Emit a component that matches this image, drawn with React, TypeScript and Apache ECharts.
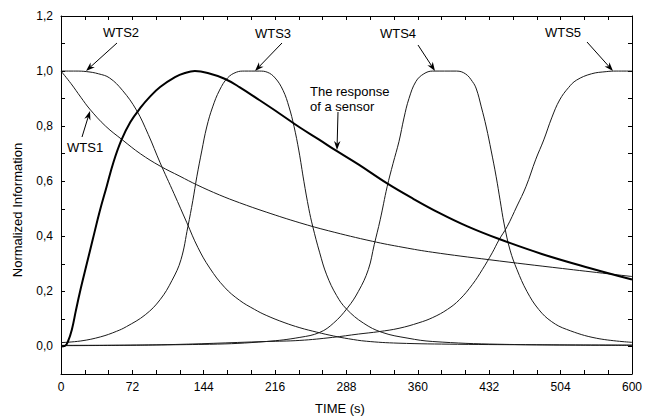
import React, { useEffect, useRef } from "react";
import * as echarts from "echarts";

// ---- axis ticks / labels ----
const X_LABEL_VALUES = [0, 72, 144, 216, 288, 360, 432, 504, 576];
const X_LABEL_TEXTS = ["0", "72", "144", "216", "288", "360", "432", "504", "600"];
const Y_LABEL_VALUES = [0, 0.2, 0.4, 0.6, 0.8, 1.0, 1.2];

// ---- series values: [time, normalized information] ----
const wts1 = [[0,1.0],[10,0.955],[20,0.905],[29,0.862],[45,0.80],[62,0.75],[80,0.70],[100,0.655],[120,0.618],[137,0.587],[160,0.55],[180,0.522],[207,0.488],[241,0.449],[270,0.42],[314,0.382],[345,0.36],[375,0.342],[432,0.315],[506,0.283],[576,0.254]];

const wts2 = [[0,1.0],[15,1.0],[26,0.998],[38,0.99],[49,0.975],[62,0.93],[76,0.859],[88,0.77],[100,0.667],[114,0.555],[127,0.449],[138,0.36],[150,0.285],[165,0.215],[180,0.168],[195,0.135],[207,0.113],[225,0.087],[241,0.068],[258,0.052],[275,0.038],[290,0.028],[308,0.019],[340,0.012],[400,0.008],[480,0.006],[576,0.005]];

const wts3 = [[0,0.014],[20,0.02],[40,0.035],[56,0.055],[66,0.072],[85,0.115],[100,0.17],[112,0.24],[121,0.315],[128,0.435],[133,0.53],[137,0.616],[142,0.71],[147,0.797],[153,0.87],[160,0.931],[168,0.975],[177,0.996],[185,1.0],[200,1.0],[208,0.996],[216,0.975],[224,0.93],[230,0.87],[235,0.80],[240,0.71],[245,0.6],[250,0.5],[254,0.435],[261,0.34],[268,0.26],[278,0.185],[288,0.136],[305,0.085],[324,0.051],[350,0.03],[375,0.018],[442,0.008],[576,0.004]];

const wts4 = [[0,0.004],[150,0.008],[207,0.018],[241,0.033],[261,0.051],[275,0.085],[289,0.14],[300,0.2],[310,0.279],[316,0.37],[322,0.46],[329,0.58],[335,0.665],[341,0.745],[346,0.83],[351,0.9],[358,0.962],[366,0.99],[375,1.0],[399,1.0],[408,0.99],[415,0.962],[419,0.935],[424,0.87],[429,0.797],[434,0.71],[439,0.616],[443,0.53],[447,0.445],[453,0.35],[460,0.279],[470,0.2],[482,0.134],[495,0.09],[510,0.062],[540,0.03],[576,0.015]];

const wts5 = [[0,0.003],[100,0.006],[207,0.018],[241,0.022],[274,0.033],[300,0.045],[321,0.054],[341,0.066],[361,0.086],[375,0.105],[390,0.135],[402,0.17],[415,0.225],[425,0.279],[435,0.34],[442,0.388],[450,0.435],[460,0.51],[469,0.58],[479,0.68],[487,0.75],[495,0.83],[503,0.895],[512,0.94],[520,0.967],[535,0.99],[550,0.998],[560,1.0],[576,1.0]];

const sensor = [[0,0],[4,0.002],[7,0.018],[11,0.062],[15,0.13],[19,0.196],[26,0.30],[32,0.388],[39,0.49],[46,0.58],[53,0.67],[61,0.75],[70,0.815],[80,0.866],[90,0.908],[100,0.942],[115,0.978],[125,0.993],[135,1.0],[148,0.993],[165,0.972],[180,0.942],[200,0.895],[220,0.847],[241,0.795],[260,0.752],[278,0.71],[300,0.661],[329,0.592],[355,0.537],[381,0.486],[410,0.436],[442,0.39],[485,0.336],[533,0.285],[576,0.243]];

const FONT = "'Liberation Sans', Arial, Helvetica, sans-serif";

function arrow(x1: number, y1: number, x2: number, y2: number) {
  const dx = x2 - x1, dy = y2 - y1;
  const L = Math.hypot(dx, dy);
  const ux = dx / L, uy = dy / L;
  const hl = 9, hw = 3.2;
  const bx = x2 - ux * hl, by = y2 - uy * hl;
  const nx = x2 - ux * hl * 0.7, ny = y2 - uy * hl * 0.7;
  return [
    { type: "line", shape: { x1, y1, x2: nx, y2: ny }, style: { stroke: "#000", lineWidth: 1 } },
    {
      type: "polygon",
      shape: { points: [[x2, y2], [bx - uy * hw, by + ux * hw], [nx, ny], [bx + uy * hw, by - ux * hw]] },
      style: { fill: "#000" },
    },
  ];
}

function label(text: string, x: number, y: number, align = "center") {
  return {
    type: "text",
    x,
    y,
    style: { text, fontSize: 13, fontFamily: FONT, fill: "#000", align, verticalAlign: "middle" },
  };
}

export default function App() {
  const ref = useRef<HTMLDivElement>(null);
  useEffect(() => {
    const chart = echarts.init(ref.current!, null, { renderer: "svg" });
    const xBase = (pos: string, showLabel: boolean) => ({
      type: "value",
      position: pos,
      min: 0,
      max: 576,
      interval: 24,
      axisLine: { show: true, onZero: false, lineStyle: { color: "#000", width: 1 } },
      axisTick: { show: true, inside: true, length: 4, lineStyle: { color: "#000", width: 1 } },
      axisLabel: {
        show: showLabel,
        customValues: X_LABEL_VALUES,
        margin: 7,
        color: "#000",
        fontSize: 12,
        fontFamily: FONT,
        formatter: (v: number) => {
          const i = X_LABEL_VALUES.indexOf(Math.round(v));
          return i >= 0 ? X_LABEL_TEXTS[i] : "";
        },
      },
      splitLine: { show: false },
    });
    const yBase = (pos: string, showLabel: boolean) => ({
      type: "value",
      position: pos,
      min: -0.1,
      max: 1.2,
      interval: 0.1,
      axisLine: { show: true, onZero: false, lineStyle: { color: "#000", width: 1 } },
      axisTick: { show: true, inside: true, length: 4, lineStyle: { color: "#000", width: 1 } },
      axisLabel: {
        show: showLabel,
        customValues: Y_LABEL_VALUES,
        margin: 8,
        color: "#000",
        fontSize: 12,
        fontFamily: FONT,
        formatter: (v: number) => v.toFixed(1).replace(".", ","),
      },
      splitLine: { show: false },
    });
    const thin = (name: string, data: number[][]) => ({
      name,
      type: "line",
      data,
      smooth: 0.4,
      symbol: "none",
      showSymbol: false,
      lineStyle: { color: "#1a1a1a", width: 1 },
      z: 2,
    });
    chart.setOption({
      animation: false,
      backgroundColor: "#fff",
      grid: { left: 61, right: 12, top: 16, bottom: 42, containLabel: false },
      xAxis: [xBase("bottom", true), xBase("top", false)],
      yAxis: [yBase("left", true), yBase("right", false)],
      series: [
        thin("WTS1", wts1),
        thin("WTS2", wts2),
        thin("WTS3", wts3),
        thin("WTS4", wts4),
        thin("WTS5", wts5),
        {
          name: "The response of a sensor",
          type: "line",
          data: sensor,
          smooth: 0.4,
          symbol: "none",
          showSymbol: false,
          lineStyle: { color: "#000", width: 2 },
          z: 3,
        },
      ],
      graphic: [
        {
          type: "text",
          x: 17,
          y: 210,
          rotation: Math.PI / 2,
          style: { text: "Normalized Information", fontSize: 13, fontFamily: FONT, fill: "#000", align: "center", verticalAlign: "middle" },
        },
        label("TIME (s)", 340, 408),
        label("WTS2", 121, 32),
        ...arrow(117, 43, 86, 71),
        label("WTS1", 67, 147, "left"),
        ...arrow(82, 137, 90, 111),
        label("WTS3", 273, 33),
        ...arrow(282, 43, 255, 71),
        label("WTS4", 398, 33),
        ...arrow(418, 45, 435, 71),
        label("WTS5", 563, 32),
        ...arrow(587, 42, 613, 71),
        label("The response", 310, 91, "left"),
        label("of a sensor", 310, 106, "left"),
        ...arrow(338, 112, 337, 150),
      ],
    });
    return () => chart.dispose();
  }, []);
  return <div ref={ref} style={{ position: "fixed", left: 0, top: 0, width: 645, height: 416 }} />;
}
